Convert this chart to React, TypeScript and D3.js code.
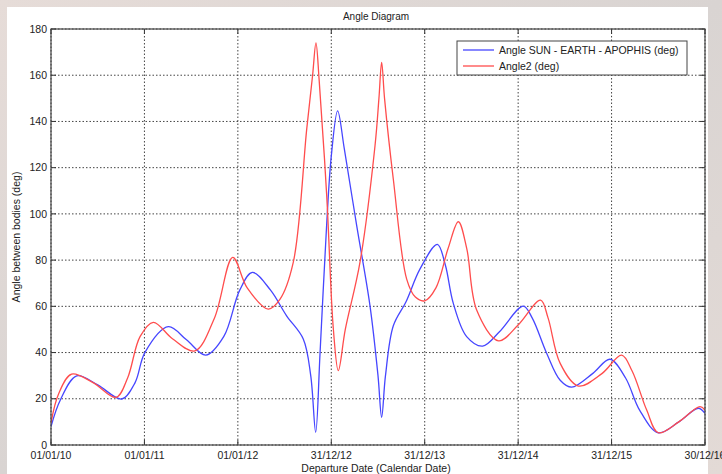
import React from "react";
import * as d3 from "d3";

const tickLabels = ["01/01/10", "01/01/11", "01/01/12", "31/12/12", "31/12/13", "31/12/14", "31/12/15", "30/12/16"];
const yTicks = [0, 20, 40, 60, 80, 100, 120, 140, 160, 180];

// t = years since 01/01/10
const blueT = [0, 0.1, 0.275, 0.5, 0.757, 0.9, 1.006, 1.256, 1.45, 1.656, 1.85, 2.02, 2.155, 2.35, 2.52, 2.70, 2.78, 2.833, 2.88, 2.95, 3.0, 3.068, 3.14, 3.272, 3.414, 3.5, 3.539, 3.58, 3.664, 3.8, 3.95, 4.135, 4.22, 4.306, 4.449, 4.62, 4.80, 5.055, 5.15, 5.305, 5.45, 5.573, 5.8, 5.983, 6.15, 6.30, 6.50, 6.72, 6.928, 7.0];
const blueV = [8, 19.5, 29.9, 26, 19.9, 27, 40.1, 51.2, 45.5, 38.9, 47, 67, 74.7, 67, 56, 45.9, 30, 5.5, 40, 95, 125, 144.6, 128, 94.9, 60.3, 30, 12.0, 30, 51.6, 62, 76.2, 86.8, 78, 61.3, 46.9, 42.8, 49, 60.1, 55, 39.7, 28, 25, 31, 37.1, 29, 15.1, 5.3, 10, 15.9, 13.7];

const redT = [0, 0.08, 0.22, 0.45, 0.696, 0.82, 0.953, 1.095, 1.3, 1.54, 1.75, 1.945, 2.1, 2.326, 2.45, 2.593, 2.737, 2.80, 2.836, 2.87, 2.951, 3.022, 3.075, 3.15, 3.307, 3.468, 3.51, 3.539, 3.57, 3.664, 3.807, 3.9, 4.0, 4.12, 4.25, 4.36, 4.45, 4.556, 4.79, 5.0, 5.24, 5.32, 5.45, 5.645, 5.9, 6.108, 6.22, 6.376, 6.50, 6.72, 6.946, 7.0];
const redV = [9.6, 22, 30.7, 27, 20.6, 29, 46.9, 53.1, 46, 40.7, 55, 81.2, 68, 58.8, 63, 79, 136.7, 160, 174, 158, 107.9, 50.2, 32.2, 50, 79, 129.5, 150, 165.6, 150, 115, 71.8, 64, 62.4, 68, 85, 96.6, 85, 58.4, 45.1, 51.9, 62.7, 55, 35.3, 25.5, 31, 38.9, 32, 15.1, 5.3, 10, 16.6, 15.1];

const W = 722;
const H = 474;
const left = 51, right = 705, top = 29, bottom = 445;

export default function App() {
  const x = d3.scaleLinear().domain([0, 7]).range([left, right]);
  const y = d3.scaleLinear().domain([0, 180]).range([bottom, top]);
  const line = d3
    .line<[number, number]>()
    .x((d) => x(d[0]))
    .y((d) => y(d[1]))
    .curve(d3.curveCatmullRom.alpha(0.5));
  const blue = blueT.map((t, i) => [t, blueV[i]] as [number, number]);
  const red = redT.map((t, i) => [t, redV[i]] as [number, number]);
  const xTicks = d3.range(tickLabels.length);
  const font = "'Liberation Sans', Arial, sans-serif";

  return (
    <svg width={W} height={H} style={{ position: "absolute", left: 0, top: 0 }} fontFamily={font}>
      <defs>
        <linearGradient id="bg" x1="0" y1="0" x2="1" y2="1">
          <stop offset="0" stopColor="#e6dcd8" />
          <stop offset="0.5" stopColor="#d9d4d2" />
          <stop offset="1" stopColor="#e3dad6" />
        </linearGradient>
        <clipPath id="clip">
          <rect x={left} y={top} width={right - left} height={bottom - top} />
        </clipPath>
      </defs>
      <rect x={0} y={0} width={W} height={H} fill="url(#bg)" />
      <rect x={7} y={7} width={701} height={H - 7} fill="#ffffff" />

      {/* grid */}
      {yTicks.map((v) => (
        <line key={"gy" + v} x1={left} x2={right} y1={y(v)} y2={y(v)} stroke="#444" strokeWidth={1} strokeDasharray="1.5,2" />
      ))}
      {xTicks.map((t) => (
        <line key={"gx" + t} x1={x(t)} x2={x(t)} y1={top} y2={bottom} stroke="#444" strokeWidth={1} strokeDasharray="1.5,2" />
      ))}

      {/* ticks inward */}
      {yTicks.map((v) => (
        <g key={"ty" + v}>
          <line x1={left} x2={left + 5} y1={y(v)} y2={y(v)} stroke="#333" />
          <line x1={right} x2={right - 5} y1={y(v)} y2={y(v)} stroke="#333" />
        </g>
      ))}
      {xTicks.map((t) => (
        <g key={"tx" + t}>
          <line x1={x(t)} x2={x(t)} y1={bottom} y2={bottom - 5} stroke="#333" />
          <line x1={x(t)} x2={x(t)} y1={top} y2={top + 5} stroke="#333" />
        </g>
      ))}

      <g clipPath="url(#clip)">
        <path d={line(blue) || ""} fill="none" stroke="#4646ff" strokeWidth={1.3} />
        <path d={line(red) || ""} fill="none" stroke="#ff4d4d" strokeWidth={1.3} />
      </g>

      <rect x={left} y={top} width={right - left} height={bottom - top} fill="none" stroke="#444" strokeWidth={1.2} />

      {/* tick labels */}
      {yTicks.map((v) => (
        <text key={"ly" + v} x={left - 4} y={y(v)} dy="0.35em" textAnchor="end" fontSize={10.5} fill="#222">
          {v}
        </text>
      ))}
      {xTicks.map((t) => (
        <text key={"lx" + t} x={x(t)} y={459} textAnchor="middle" fontSize={10.5} fill="#222">
          {tickLabels[t]}
        </text>
      ))}

      <text x={376} y={20} textAnchor="middle" fontSize={10} fill="#222">Angle Diagram</text>
      <text x={376} y={472} textAnchor="middle" fontSize={10.5} fill="#222">Departure Date (Calendar Date)</text>
      <text transform={`translate(20,${(top + bottom) / 2}) rotate(-90)`} textAnchor="middle" fontSize={10.5} fill="#222">
        Angle between bodies (deg)
      </text>

      {/* legend */}
      <rect x={457} y={41} width={230} height={34} fill="#ffffff" stroke="#444" strokeWidth={1} />
      <line x1={463} x2={494} y1={50} y2={50} stroke="#4646ff" strokeWidth={1.3} />
      <line x1={463} x2={494} y1={66} y2={66} stroke="#ff4d4d" strokeWidth={1.3} />
      <text x={499} y={50} dy="0.35em" fontSize={10.5} fill="#222">Angle SUN - EARTH - APOPHIS (deg)</text>
      <text x={499} y={66} dy="0.35em" fontSize={10.5} fill="#222">Angle2 (deg)</text>
    </svg>
  );
}
